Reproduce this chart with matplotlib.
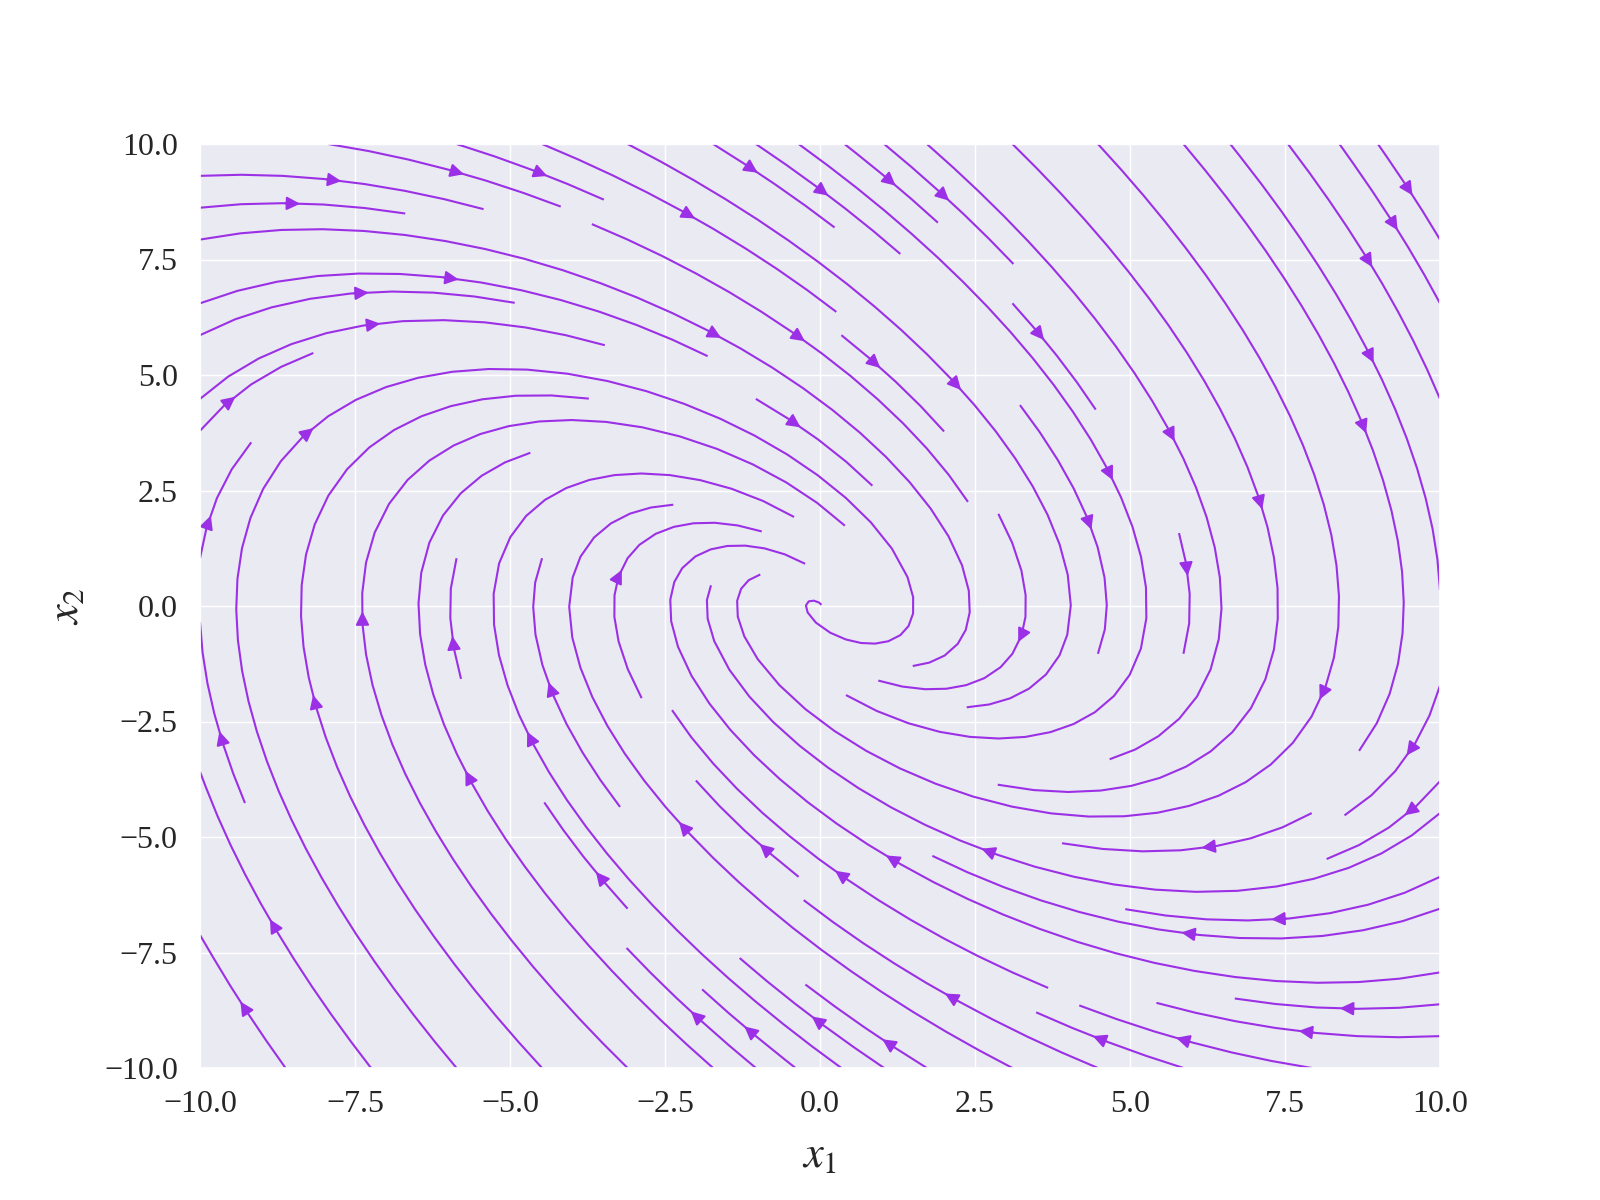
import numpy as np
import matplotlib
matplotlib.use("Agg")
import matplotlib.pyplot as plt
import seaborn as sns

sns.set_theme(style="darkgrid")
plt.rcParams['font.family'] = ['Liberation Serif', 'DejaVu Serif']
plt.rcParams['mathtext.fontset'] = 'stix'

# linear system dx/dt = A x
A = [[0.0, 1.0], [-1.0, -1.0]]
x_range = [-10, 10]
y_range = [-10, 10]
n_grid = 100
color = '#9b30e6'

x1 = np.linspace(x_range[0], x_range[1], n_grid)
x2 = np.linspace(y_range[0], y_range[1], n_grid)
X1, X2 = np.meshgrid(x1, x2)
U = A[0][0] * X1 + A[0][1] * X2
V = A[1][0] * X1 + A[1][1] * X2

fig, ax = plt.subplots(figsize=(16, 12), dpi=100)
ax.streamplot(X1, X2, U, V, color=color, linewidth=1.5, arrowsize=2)
ax.set_xlim(x_range)
ax.set_ylim(y_range)
ax.set_xlabel('$x_1$', fontsize=32, labelpad=12)
ax.set_ylabel('$x_2$', fontsize=32, labelpad=12)
ax.tick_params(labelsize=23, pad=10)
fig.savefig('out.png')
